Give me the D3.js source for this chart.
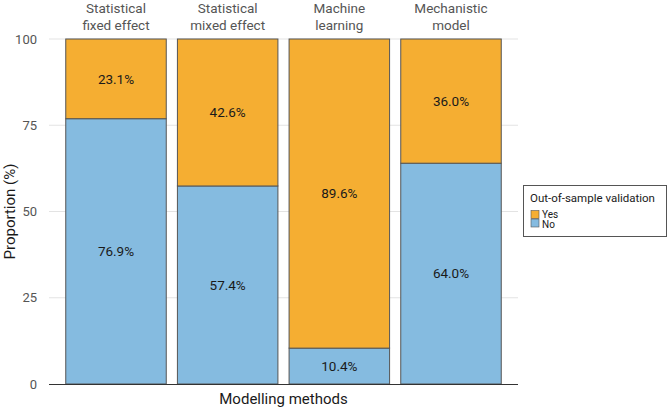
<!DOCTYPE html>
<html><head><meta charset="utf-8">
<script src="https://cdn.jsdelivr.net/npm/d3@7"></script>
<style>body{margin:0;background:#fff}svg{display:block;font-family:Roboto,"Noto Sans",sans-serif}</style>
</head><body><svg id="c" width="669" height="408"></svg>
<script>
const categories = ["Statistical\nfixed effect","Statistical\nmixed effect","Machine\nlearning","Mechanistic\nmodel"];
const yesValues = [23.1, 42.6, 89.6, 36.0];
const noValues = [76.9, 57.4, 10.4, 64.0];
const yTicks = [0, 25, 50, 75, 100];
const legendLabels = ["Yes", "No"];
const colors = {Yes: "#F5AE32", No: "#85BBE0"};

const svg = d3.select("#c");
const L = 49, R = 518, T = 39, B = 384;
const x = d3.scalePoint().domain(categories).range([L, R]).padding(0.6);
const bw = x.step() * 0.9;
const y = d3.scaleLinear().domain([0, 100]).range([B, T]);

// grid
svg.append("g").selectAll("line").data(yTicks.filter(d => d > 0)).join("line")
  .attr("x1", L).attr("x2", R).attr("y1", d => y(d)).attr("y2", d => y(d))
  .attr("stroke", "#e3e3e3").attr("stroke-width", 1);

// y axis labels
const yAxis = d3.axisLeft(y).tickValues(yTicks).tickSize(0).tickPadding(12);
const yg = svg.append("g").attr("transform", `translate(${L},0)`).call(yAxis);
yg.select(".domain").remove();
yg.selectAll("text").attr("fill", "#555").attr("font-size", 13).attr("font-family", "Roboto");

// stacks
const data = categories.map((c, i) => ({cat: c, No: noValues[i], Yes: yesValues[i]}));
const stack = d3.stack().keys(["No", "Yes"])(data);
const g = svg.append("g");
stack.forEach(layer => {
  g.selectAll(null).data(layer).join("rect")
    .attr("x", d => x(d.data.cat) - bw / 2)
    .attr("width", bw)
    .attr("y", d => y(d[1]))
    .attr("height", d => y(d[0]) - y(d[1]))
    .attr("fill", colors[layer.key])
    .attr("stroke", "#555").attr("stroke-width", 1);
  g.selectAll(null).data(layer).join("text")
    .attr("x", d => x(d.data.cat))
    .attr("y", d => (y(d[0]) + y(d[1])) / 2)
    .attr("dy", "0.35em")
    .attr("text-anchor", "middle")
    .attr("font-size", 13.5).attr("fill", "#1a1a1a")
    .text(d => (d[1] - d[0]).toFixed(1) + "%");
});

// baseline
svg.append("line").attr("x1", L).attr("x2", R).attr("y1", B + 0.5).attr("y2", B + 0.5)
  .attr("stroke", "#333").attr("stroke-width", 1);

// top category labels
const xAxis = d3.axisTop(x).tickSize(0).tickFormat("");
const xg = svg.append("g").attr("transform", `translate(0,${T})`).call(xAxis);
xg.select(".domain").remove();
categories.forEach(c => {
  const lines = c.split("\n");
  const t = svg.append("text").attr("text-anchor", "middle").attr("fill", "#555").attr("font-size", 13.5);
  lines.forEach((ln, k) => t.append("tspan").attr("x", x(c)).attr("y", 13 + k * 17).text(ln));
});

// axis titles
svg.append("text").attr("x", (L + R) / 2).attr("y", 404).attr("text-anchor", "middle")
  .attr("font-size", 15).attr("fill", "#1a1a1a").text("Modelling methods");
svg.append("text").attr("transform", `translate(15,${(T + B) / 2}) rotate(-90)`).attr("text-anchor", "middle")
  .attr("font-size", 15).attr("fill", "#1a1a1a").text("Proportion (%)");

// legend
const lg = svg.append("g");
lg.append("rect").attr("x", 523.5).attr("y", 185.5).attr("width", 143).attr("height", 51)
  .attr("fill", "#fff").attr("stroke", "#555").attr("stroke-width", 1);
lg.append("text").attr("x", 530).attr("y", 202).attr("font-size", 11.5).attr("fill", "#1a1a1a").text("Out-of-sample validation");
legendLabels.forEach((k, i) => {
  lg.append("rect").attr("x", 531).attr("y", 210.5 + i * 8.5).attr("width", 8).attr("height", 8)
    .attr("fill", colors[k]).attr("stroke", "#555").attr("stroke-width", 0.6);
  lg.append("text").attr("x", 542).attr("y", 214.5 + i * 9.5).attr("dy", "0.35em")
    .attr("font-size", 10).attr("fill", "#1a1a1a").text(k);
});
</script></body></html>
